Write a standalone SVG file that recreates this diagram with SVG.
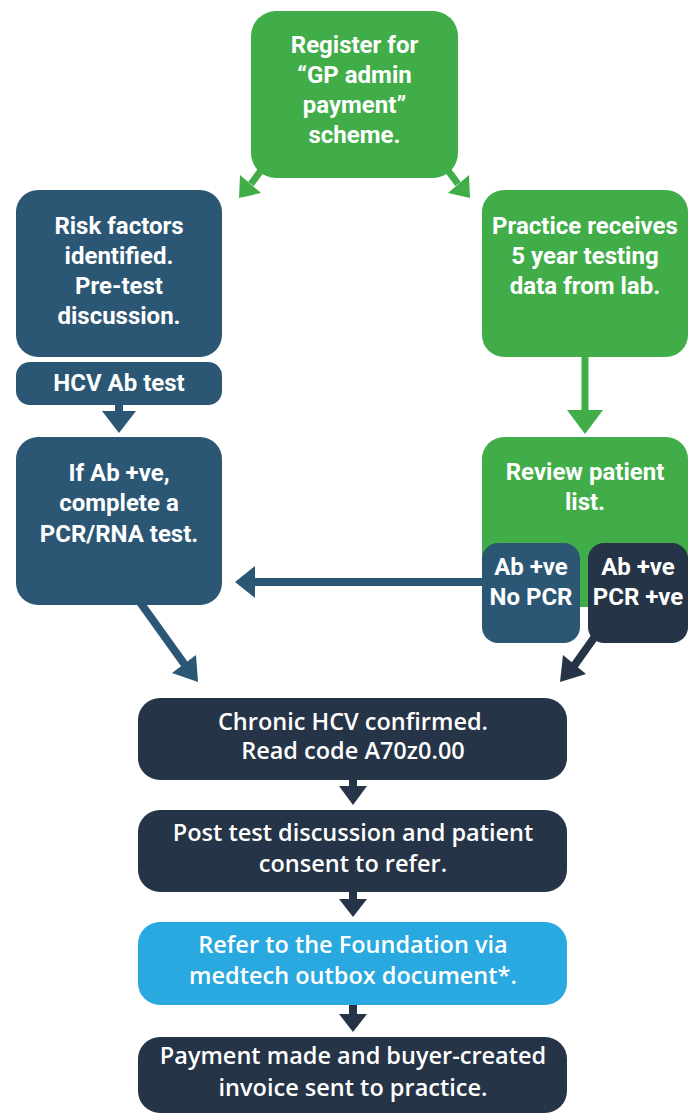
<svg xmlns="http://www.w3.org/2000/svg" width="696" height="1115" viewBox="0 0 696 1115">
<style>
.green{fill:#41ad49}
.blue{fill:#2b5674}
.navy{fill:#253446}
.light{fill:#29a9e0}
.t{font-family:Roboto,"Liberation Sans",sans-serif;font-weight:700;font-size:24px;fill:#ffffff;text-anchor:middle}
.b{font-family:"Open Sans","Liberation Sans",sans-serif;font-weight:600;font-size:23.5px;fill:#ffffff;text-anchor:middle}
.sg{stroke:#41ad49;fill:none}
.sb{stroke:#2b5674;fill:none}
.sn{stroke:#253446;fill:none}
</style>
<rect width="696" height="1115" fill="#ffffff"/>
<g id="connectors">
  <line class="sg" x1="265" y1="165" x2="251" y2="184" stroke-width="7"/>
  <polygon class="green" points="239,198 261,193 240,175"/>
  <line class="sg" x1="444" y1="165" x2="458" y2="184" stroke-width="7"/>
  <polygon class="green" points="470,198 448,193 469,175"/>
  <line class="sb" x1="119" y1="400" x2="119" y2="415" stroke-width="8"/>
  <polygon class="blue" points="102,411 136,411 119,433"/>
  <line class="sg" x1="585" y1="355" x2="585" y2="414" stroke-width="7"/>
  <polygon class="green" points="567,410 603,410 585,434"/>
  <line class="sb" x1="485" y1="582" x2="250" y2="582" stroke-width="8"/>
  <polygon class="blue" points="255,566 255,598 235,582"/>
  <line class="sb" x1="137" y1="598" x2="185" y2="665" stroke-width="8"/>
  <polygon class="blue" points="198,682 196,655 172,673"/>
  <line class="sn" x1="601" y1="628" x2="574" y2="666" stroke-width="8"/>
  <polygon class="navy" points="560,682 586,674 563,655"/>
  <line class="sn" x1="353" y1="778" x2="353" y2="790" stroke-width="8"/>
  <polygon class="navy" points="339,786 367,786 353,805"/>
  <line class="sn" x1="353" y1="890" x2="353" y2="902" stroke-width="8"/>
  <polygon class="navy" points="339,899 367,899 353,917"/>
  <line class="sn" x1="353" y1="1003" x2="353" y2="1017" stroke-width="8"/>
  <polygon class="navy" points="339,1014 367,1014 353,1032"/>
</g>
<g id="register">
  <rect class="green" x="251" y="11" width="207" height="167" rx="25"/>
  <text class="t" x="354.5" y="53">Register for</text>
  <text class="t" x="354.5" y="83">“GP admin</text>
  <text class="t" x="354.5" y="113">payment”</text>
  <text class="t" x="354.5" y="143">scheme.</text>
</g>
<g id="risk">
  <rect class="blue" x="16" y="190" width="206" height="167" rx="22"/>
  <text class="t" x="119" y="234">Risk factors</text>
  <text class="t" x="119" y="264">identified.</text>
  <text class="t" x="119" y="294">Pre-test</text>
  <text class="t" x="119" y="324">discussion.</text>
</g>
<g id="hcvab">
  <rect class="blue" x="16" y="362" width="206" height="43" rx="14"/>
  <text class="t" x="119" y="391">HCV Ab test</text>
</g>
<g id="ifab">
  <rect class="blue" x="16" y="437" width="206" height="168" rx="22"/>
  <text class="t" x="119" y="481">If Ab +ve,</text>
  <text class="t" x="119" y="511">complete a</text>
  <text class="t" x="119" y="542">PCR/RNA test.</text>
</g>
<g id="practice">
  <rect class="green" x="482" y="190" width="206" height="167" rx="22"/>
  <text class="t" x="585" y="234">Practice receives</text>
  <text class="t" x="585" y="264">5 year testing</text>
  <text class="t" x="585" y="294">data from lab.</text>
</g>
<g id="review">
  <rect class="green" x="482" y="437" width="206" height="170" rx="22"/>
  <text class="t" x="585" y="480">Review patient</text>
  <text class="t" x="585" y="510">list.</text>
</g>
<g id="nopcr">
  <rect class="blue" x="482" y="543" width="98" height="100" rx="16"/>
  <text class="t" x="531" y="575">Ab +ve</text>
  <text class="t" x="531" y="605">No PCR</text>
</g>
<g id="pcrpos">
  <rect class="navy" x="588" y="543" width="100" height="100" rx="16"/>
  <text class="t" x="638" y="575">Ab +ve</text>
  <text class="t" x="638" y="605">PCR +ve</text>
</g>
<g id="chronic">
  <rect class="navy" x="138" y="698" width="429" height="82" rx="22"/>
  <text class="b" x="353" y="730">Chronic HCV confirmed.</text>
  <text class="b" x="353" y="759">Read code A70z0.00</text>
</g>
<g id="post">
  <rect class="navy" x="138" y="810" width="429" height="82" rx="22"/>
  <text class="b" x="353" y="841">Post test discussion and patient</text>
  <text class="b" x="353" y="872">consent to refer.</text>
</g>
<g id="refer">
  <rect class="light" x="138" y="922" width="429" height="83" rx="22"/>
  <text class="b" x="353" y="953">Refer to the Foundation via</text>
  <text class="b" x="353" y="984">medtech outbox document*.</text>
</g>
<g id="payment">
  <rect class="navy" x="138" y="1037" width="429" height="76" rx="22"/>
  <text class="b" x="353" y="1064">Payment made and buyer-created</text>
  <text class="b" x="353" y="1096">invoice sent to practice.</text>
</g>
</svg>
